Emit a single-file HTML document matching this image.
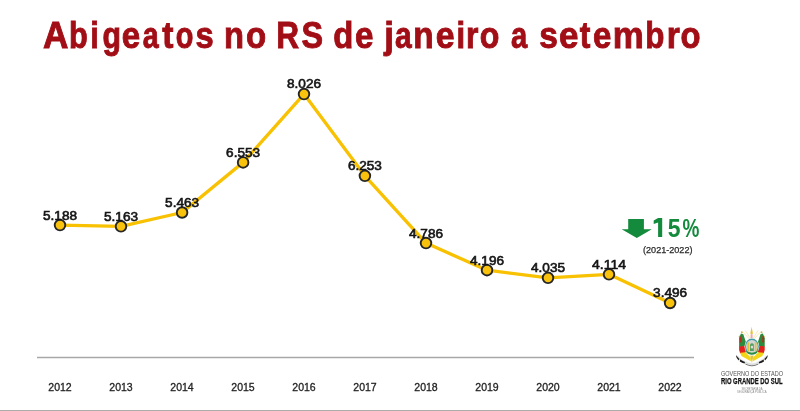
<!DOCTYPE html>
<html><head><meta charset="utf-8">
<style>
html,body{margin:0;padding:0;background:#fff;width:800px;height:411px;overflow:hidden}
svg{display:block;will-change:transform;font-family:"Liberation Sans",sans-serif}
</style></head><body>
<svg width="800" height="411" viewBox="0 0 800 411">
<rect x="0" y="0" width="800" height="411" fill="#fff"/>
<g font-size="36.9" font-weight="bold" fill="#a20e16" stroke="#a20e16" stroke-width="0.9" transform="translate(0,-0.45)"><text x="43.0" y="48.5" textLength="25.44" lengthAdjust="spacingAndGlyphs">A</text><text x="69.12" y="48.5" textLength="18.74" lengthAdjust="spacingAndGlyphs">b</text><text x="90.22" y="48.5" textLength="8.59" lengthAdjust="spacingAndGlyphs">i</text><text x="102.58" y="48.5" textLength="18.51" lengthAdjust="spacingAndGlyphs">g</text><text x="121.87" y="48.5" textLength="18.43" lengthAdjust="spacingAndGlyphs">e</text><text x="142.76" y="48.5" textLength="15.92" lengthAdjust="spacingAndGlyphs">a</text><text x="162.19" y="48.5" textLength="11.19" lengthAdjust="spacingAndGlyphs">t</text><text x="175.8" y="48.5" textLength="17.63" lengthAdjust="spacingAndGlyphs">o</text><text x="195.52" y="48.5" textLength="18.18" lengthAdjust="spacingAndGlyphs">s</text><text x="224.01" y="48.5" textLength="19.97" lengthAdjust="spacingAndGlyphs">n</text><text x="245.89" y="48.5" textLength="20.2" lengthAdjust="spacingAndGlyphs">o</text><text x="276.28" y="48.5" textLength="22.86" lengthAdjust="spacingAndGlyphs">R</text><text x="301.59" y="48.5" textLength="21.56" lengthAdjust="spacingAndGlyphs">S</text><text x="333.3" y="48.5" textLength="20.09" lengthAdjust="spacingAndGlyphs">d</text><text x="355.05" y="48.5" textLength="18.48" lengthAdjust="spacingAndGlyphs">e</text><text x="384.3" y="48.5" textLength="9.67" lengthAdjust="spacingAndGlyphs">j</text><text x="394.96" y="48.5" textLength="16.68" lengthAdjust="spacingAndGlyphs">a</text><text x="413.19" y="48.5" textLength="20.43" lengthAdjust="spacingAndGlyphs">n</text><text x="435.85" y="48.5" textLength="18.84" lengthAdjust="spacingAndGlyphs">e</text><text x="456.49" y="48.5" textLength="8.59" lengthAdjust="spacingAndGlyphs">i</text><text x="466.04" y="48.5" textLength="12.4" lengthAdjust="spacingAndGlyphs">r</text><text x="479.69" y="48.5" textLength="19.62" lengthAdjust="spacingAndGlyphs">o</text><text x="511.0" y="48.5" textLength="16.24" lengthAdjust="spacingAndGlyphs">a</text><text x="539.28" y="48.5" textLength="18.62" lengthAdjust="spacingAndGlyphs">s</text><text x="559.05" y="48.5" textLength="19.45" lengthAdjust="spacingAndGlyphs">e</text><text x="579.8" y="48.5" textLength="10.62" lengthAdjust="spacingAndGlyphs">t</text><text x="593.11" y="48.5" textLength="18.37" lengthAdjust="spacingAndGlyphs">e</text><text x="612.69" y="48.5" textLength="31.04" lengthAdjust="spacingAndGlyphs">m</text><text x="645.3" y="48.5" textLength="19.16" lengthAdjust="spacingAndGlyphs">b</text><text x="666.76" y="48.5" textLength="13.07" lengthAdjust="spacingAndGlyphs">r</text><text x="680.47" y="48.5" textLength="20.01" lengthAdjust="spacingAndGlyphs">o</text></g>
<line x1="37" y1="357.5" x2="694" y2="357.5" stroke="#a8a8a8" stroke-width="1.5"/>
<rect x="0" y="410" width="800" height="1" fill="#acacac"/>
<polyline points="60.0,225.1 121.0,226.3 182.1,212.5 243.1,162.4 304.0,94.1 364.9,175.8 426.0,243.1 487.0,270.2 548.0,277.8 609.0,274.3 670.1,303.0" fill="none" stroke="#f8c102" stroke-width="3.3" stroke-linejoin="round"/>
<g fill="#f9c20c" stroke="#262626" stroke-width="1.9">
<circle cx="60.0" cy="225.1" r="5.3"/>
<circle cx="121.0" cy="226.3" r="5.3"/>
<circle cx="182.1" cy="212.5" r="5.3"/>
<circle cx="243.1" cy="162.4" r="5.3"/>
<circle cx="304.0" cy="94.1" r="5.3"/>
<circle cx="364.9" cy="175.8" r="5.3"/>
<circle cx="426.0" cy="243.1" r="5.3"/>
<circle cx="487.0" cy="270.2" r="5.3"/>
<circle cx="548.0" cy="277.8" r="5.3"/>
<circle cx="609.0" cy="274.3" r="5.3"/>
<circle cx="670.1" cy="303.0" r="5.3"/>
</g>
<g font-size="12.4" fill="#151515" stroke="#151515" stroke-width="0.6" text-anchor="middle">
<text x="60.0" y="219.50" textLength="34.0" lengthAdjust="spacingAndGlyphs">5.188</text>
<text x="121.0" y="220.70" textLength="34.0" lengthAdjust="spacingAndGlyphs">5.163</text>
<text x="182.1" y="207.10" textLength="34.0" lengthAdjust="spacingAndGlyphs">5.463</text>
<text x="243.1" y="157.10" textLength="34.0" lengthAdjust="spacingAndGlyphs">6.553</text>
<text x="304.0" y="88.10" textLength="34.0" lengthAdjust="spacingAndGlyphs">8.026</text>
<text x="364.9" y="170.40" textLength="34.0" lengthAdjust="spacingAndGlyphs">6.253</text>
<text x="426.0" y="237.50" textLength="34.0" lengthAdjust="spacingAndGlyphs">4.786</text>
<text x="487.0" y="264.85" textLength="34.0" lengthAdjust="spacingAndGlyphs">4.196</text>
<text x="548.0" y="271.70" textLength="34.0" lengthAdjust="spacingAndGlyphs">4.035</text>
<text x="609.0" y="268.85" textLength="34.0" lengthAdjust="spacingAndGlyphs">4.114</text>
<text x="670.1" y="297.00" textLength="34.0" lengthAdjust="spacingAndGlyphs">3.496</text>
</g>

<g font-size="11" fill="#222" stroke="#222" stroke-width="0.3" text-anchor="middle">
<text x="60.0" y="390.8" textLength="23.4" lengthAdjust="spacingAndGlyphs">2012</text>
<text x="121.0" y="390.8" textLength="23.4" lengthAdjust="spacingAndGlyphs">2013</text>
<text x="182.0" y="390.8" textLength="23.4" lengthAdjust="spacingAndGlyphs">2014</text>
<text x="243.0" y="390.8" textLength="23.4" lengthAdjust="spacingAndGlyphs">2015</text>
<text x="304.0" y="390.8" textLength="23.4" lengthAdjust="spacingAndGlyphs">2016</text>
<text x="365.0" y="390.8" textLength="23.4" lengthAdjust="spacingAndGlyphs">2017</text>
<text x="426.0" y="390.8" textLength="23.4" lengthAdjust="spacingAndGlyphs">2018</text>
<text x="487.0" y="390.8" textLength="23.4" lengthAdjust="spacingAndGlyphs">2019</text>
<text x="548.0" y="390.8" textLength="23.4" lengthAdjust="spacingAndGlyphs">2020</text>
<text x="609.0" y="390.8" textLength="23.4" lengthAdjust="spacingAndGlyphs">2021</text>
<text x="670.0" y="390.8" textLength="23.4" lengthAdjust="spacingAndGlyphs">2022</text>
</g>
<g fill="#138a3c">
<path d="M628.2,218.9 H643.9 V229.3 H651.8 L636.8,238 L621.7,229.3 H628.2 Z"/>
<path d="M658.1,218.1 H662.2 V237 H658.1 V222.6 L653.7,224 V220.6 Z"/>
<text y="237" font-size="26.6" font-weight="bold"><tspan x="667.73" textLength="12.77" lengthAdjust="spacingAndGlyphs">5</tspan></text>
<text x="682.58" y="237" font-size="26.6" font-weight="bold" textLength="16.89" lengthAdjust="spacingAndGlyphs">%</text>
</g>
<text x="643" y="252.9" font-size="9" fill="#2a2a2a" stroke="#2a2a2a" stroke-width="0.25" textLength="49.5" lengthAdjust="spacingAndGlyphs">(2021-2022)</text>

<g transform="translate(732,324)">
 <g stroke="#efdf98" stroke-width="0.7" fill="none" stroke-linecap="round">
  <line x1="18.5" y1="14.5" x2="13.5" y2="6.8"/>
  <line x1="18" y1="15.5" x2="11.6" y2="8.8"/>
  <line x1="21" y1="14.5" x2="25.8" y2="6.8"/>
  <line x1="21.5" y1="15.5" x2="27.8" y2="8.8"/>
 </g>
 <path d="M19.6,2.8 L18.3,9.6 L19.6,10.6 L20.9,9.6 Z" fill="#e6c430"/>
 <rect x="18.6" y="10.2" width="2" height="3.8" fill="#eea6ae"/>
 <g fill="#d6b444">
  <circle cx="9.9" cy="8.3" r="1"/><circle cx="7.6" cy="12.3" r="0.9"/>
  <circle cx="29.5" cy="8.3" r="1"/><circle cx="31.8" cy="12.3" r="0.9"/>
 </g>
 <path d="M8.9,9.4 L11.3,10.2 L14.8,20.8 L14,22.4 L7.1,23 L7.1,14.2 Z" fill="#2c8a3a"/>
 <path d="M7.7,13.4 L9.4,11.8 L9.6,18.2 L7.7,18.6 Z" fill="#b0301f"/>
 <path d="M7.1,22.4 L14,21.8 L13.8,28.2 L10.2,30.6 Q7.4,29.4 7.1,26 Z" fill="#e2211b"/>
 <path d="M8.3,28.8 L13.6,28.2 L18.8,33.4 L18.8,37.2 L13.5,34.3 L9.4,31.9 Z" fill="#f2d418"/>
 <path d="M30.9,9.4 L28.5,10.2 L25,20.8 L25.8,22.4 L32.7,23 L32.7,14.2 Z" fill="#2c8a3a"/>
 <path d="M32.1,13.4 L30.4,11.8 L30.2,18.2 L32.1,18.6 Z" fill="#b0301f"/>
 <path d="M32.7,22.4 L25.8,21.8 L26,28.2 L29.6,30.6 Q32.4,29.4 32.7,26 Z" fill="#e2211b"/>
 <path d="M31.5,28.8 L26.2,28.2 L21,33.4 L21,37.2 L26.3,34.3 L30.4,31.9 Z" fill="#f2d418"/>
 <path d="M18.2,31.5 L21.6,31.5 L19.9,39.2 Z" fill="#e2c33a"/>
 <ellipse cx="19.9" cy="22.6" rx="7.4" ry="8.6" fill="#fff"/>
 <ellipse cx="19.9" cy="22.6" rx="6.9" ry="8.1" fill="#3f9ca6"/>
 <path d="M12.9,24.5 Q13.5,30.6 19.9,30.6 Q26.3,30.6 26.9,24.5 L25.8,27 Q23.5,29.2 19.9,29.2 Q16.3,29.2 14,27Z" fill="#2a8c3e"/>
 <ellipse cx="19.9" cy="22.6" rx="5.9" ry="6.7" fill="#d3d6d2"/>
 <path d="M14.4,26.8 Q19.9,30.6 25.4,26.8 L25,28 Q19.9,31.3 14.8,28Z" fill="#2a8c3e"/>
 <rect x="15.3" y="18.4" width="1.7" height="9" fill="#e3c23a"/>
 <rect x="22.8" y="18.4" width="1.7" height="9" fill="#e3c23a"/>
 <path d="M18,20.5 Q19.9,17.8 21.8,20.5 L21.8,27 L18,27Z" fill="#4f9f62"/>
 <rect x="18.8" y="21.8" width="2.2" height="2.6" fill="#e8d8d8"/>
 <path d="M5,32 Q8.5,36.8 13,38.2 Q19.9,42.6 26.8,38.2 Q31.3,36.8 34.8,32" fill="none" stroke="#f0f0f0" stroke-width="2.6"/>
 <path d="M5,32 Q8.5,36.8 13,38.2 Q19.9,42.6 26.8,38.2 Q31.3,36.8 34.8,32" fill="none" stroke="#cfcfcf" stroke-width="0.8"/>
 <path d="M4.2,31 Q5.6,33.6 7.4,35 L6.8,36.4 Q5,35 4.3,33 Z M8.2,35.6 Q11,37.6 13,38 L12.6,39.6 Q10,38.8 7.8,37.4 Z M35.6,31 Q34.2,33.6 32.4,35 L33,36.4 Q34.8,35 35.5,33 Z M31.6,35.6 Q28.8,37.6 26.8,38 L27.2,39.6 Q29.8,38.8 32,37.4 Z" fill="#1c1c1c"/>
 <path d="M13.4,40 Q19.9,43.6 26.4,40" fill="none" stroke="#6a6a6a" stroke-width="0.9"/>
</g>

<text x="721" y="375.8" font-size="7.3" fill="#555" textLength="62" lengthAdjust="spacingAndGlyphs">GOVERNO DO ESTADO</text>
<text x="721" y="383.9" font-size="8.6" font-weight="bold" fill="#111" stroke="#111" stroke-width="0.25" textLength="61.6" lengthAdjust="spacingAndGlyphs">RIO GRANDE DO SUL</text>
<text x="741.4" y="390.3" font-size="2.6" fill="#888" textLength="21.2" lengthAdjust="spacingAndGlyphs">SECRETARIA DA</text>
<text x="737.1" y="393.3" font-size="2.6" fill="#888" textLength="29.4" lengthAdjust="spacingAndGlyphs">SEGURANÇA PÚBLICA</text>
</svg>
</body></html>
